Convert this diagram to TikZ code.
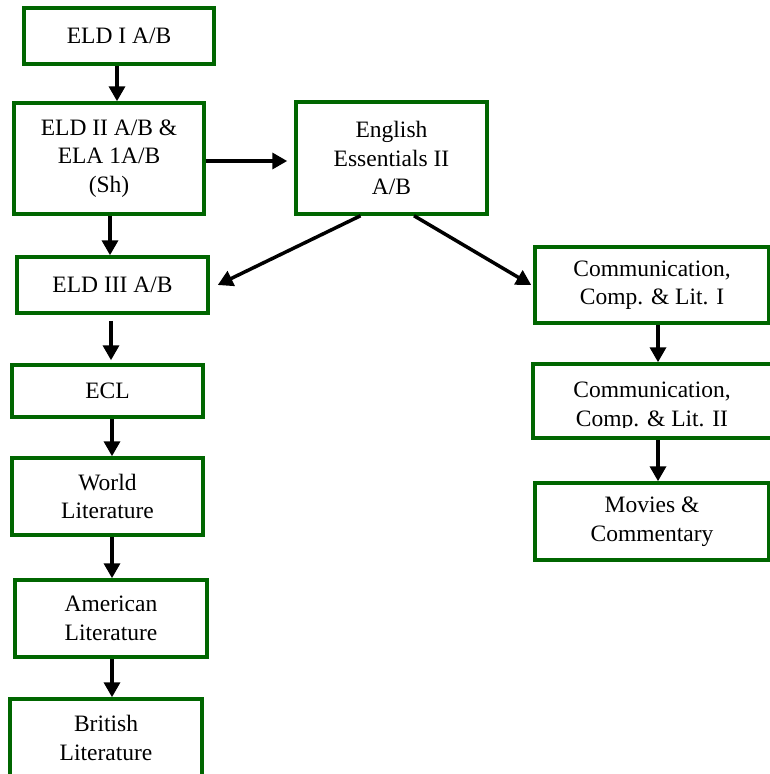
\documentclass[tikz,border=0pt]{standalone}
\usepackage{fontspec}
\setmainfont{Liberation Serif}
\usetikzlibrary{arrows.meta}
\definecolor{boxgreen}{RGB}{0,102,0}
\tikzset{
  course/.style={draw=boxgreen, line width=3.5pt, fill=white, align=center,
    inner sep=0pt, font=\fontsize{23.5}{28.5}\selectfont},
  arr/.style={draw=black, line width=3.5pt, -{Triangle[length=15pt,width=16pt]}},
}
\begin{document}
\begin{tikzpicture}[x=1pt,y=-1pt]
\useasboundingbox (0,0) rectangle (770,774);
\clip (0,0) rectangle (770,774);
% boxes
\node[course, minimum width=190pt, minimum height=56pt] (eldi) at (119,36) {ELD I A/B};
\node[course, minimum width=190pt, minimum height=111pt] (eldii) at (109,158.5) {ELD II A/B \&\\ELA 1A/B\\(Sh)};
\node[course, minimum width=191pt, minimum height=56pt] (eldiii) at (112.5,285) {ELD III A/B};
\node[course, minimum width=191pt, minimum height=112pt] (ee) at (391.5,158) {English\\Essentials II\\A/B};
\node[course, minimum width=234pt, minimum height=76pt] (c1) at (652,285) {Communication,\\Comp. \& Lit. I};
\node[course, minimum width=242pt, minimum height=74pt] (c2) at (654,401) {};
\begin{scope}
  \clip (533,364) rectangle (770,427.5);
  \node[font=\fontsize{23.5}{28.5}\selectfont, align=center, inner sep=0pt, anchor=base] (c2text) at (652,426) {Communication,\\Comp. \& Lit. II};
\end{scope}
\node[course, minimum width=234pt, minimum height=77pt] (mov) at (652,521.5) {Movies \&\\Commentary};
\node[course, minimum width=191pt, minimum height=52pt] (ecl) at (107.5,391) {ECL};
\node[course, minimum width=191pt, minimum height=77pt] (world) at (107.5,496.5) {World\\Literature};
\node[course, minimum width=192pt, minimum height=77pt] (amer) at (111,618.5) {American\\Literature};
\node[course, minimum width=192pt, minimum height=78pt] (brit) at (106,738) {British\\Literature};
% connectors
\draw[arr] ([xshift=-2pt]eldi.south) -- ([xshift=-2pt]eldi.south |- eldii.north);
\draw[arr] ([xshift=1pt]eldii.south) -- ([xshift=1pt]eldii.south |- eldiii.north);
\draw[arr] ([yshift=-2.5pt]eldii.east) -- ([xshift=-7pt,yshift=-2.5pt]ee.west |- eldii.east);
\draw[arr] ([xshift=-31pt]ee.south) -- ([xshift=8pt]eldiii.east);
\draw[arr] ([xshift=22.5pt]ee.south) -- ([xshift=-2pt]c1.west);
\draw[arr] ([xshift=-1.5pt,yshift=-6pt]eldiii.south) -- ([xshift=-1.5pt,yshift=3pt]eldiii.south |- ecl.north);
\draw[arr] ([xshift=4.5pt]ecl.south) -- ([xshift=4.5pt]ecl.south |- world.north);
\draw[arr] ([xshift=4.5pt]world.south) -- ([xshift=4.5pt]world.south |- amer.north);
\draw[arr] ([xshift=1pt]amer.south) -- ([xshift=1pt]amer.south |- brit.north);
\draw[arr] ([xshift=6pt]c1.south) -- ([xshift=6pt]c1.south |- c2.north);
\draw[arr] ([xshift=4pt]c2.south) -- ([xshift=4pt]c2.south |- mov.north);
\end{tikzpicture}
\end{document}
